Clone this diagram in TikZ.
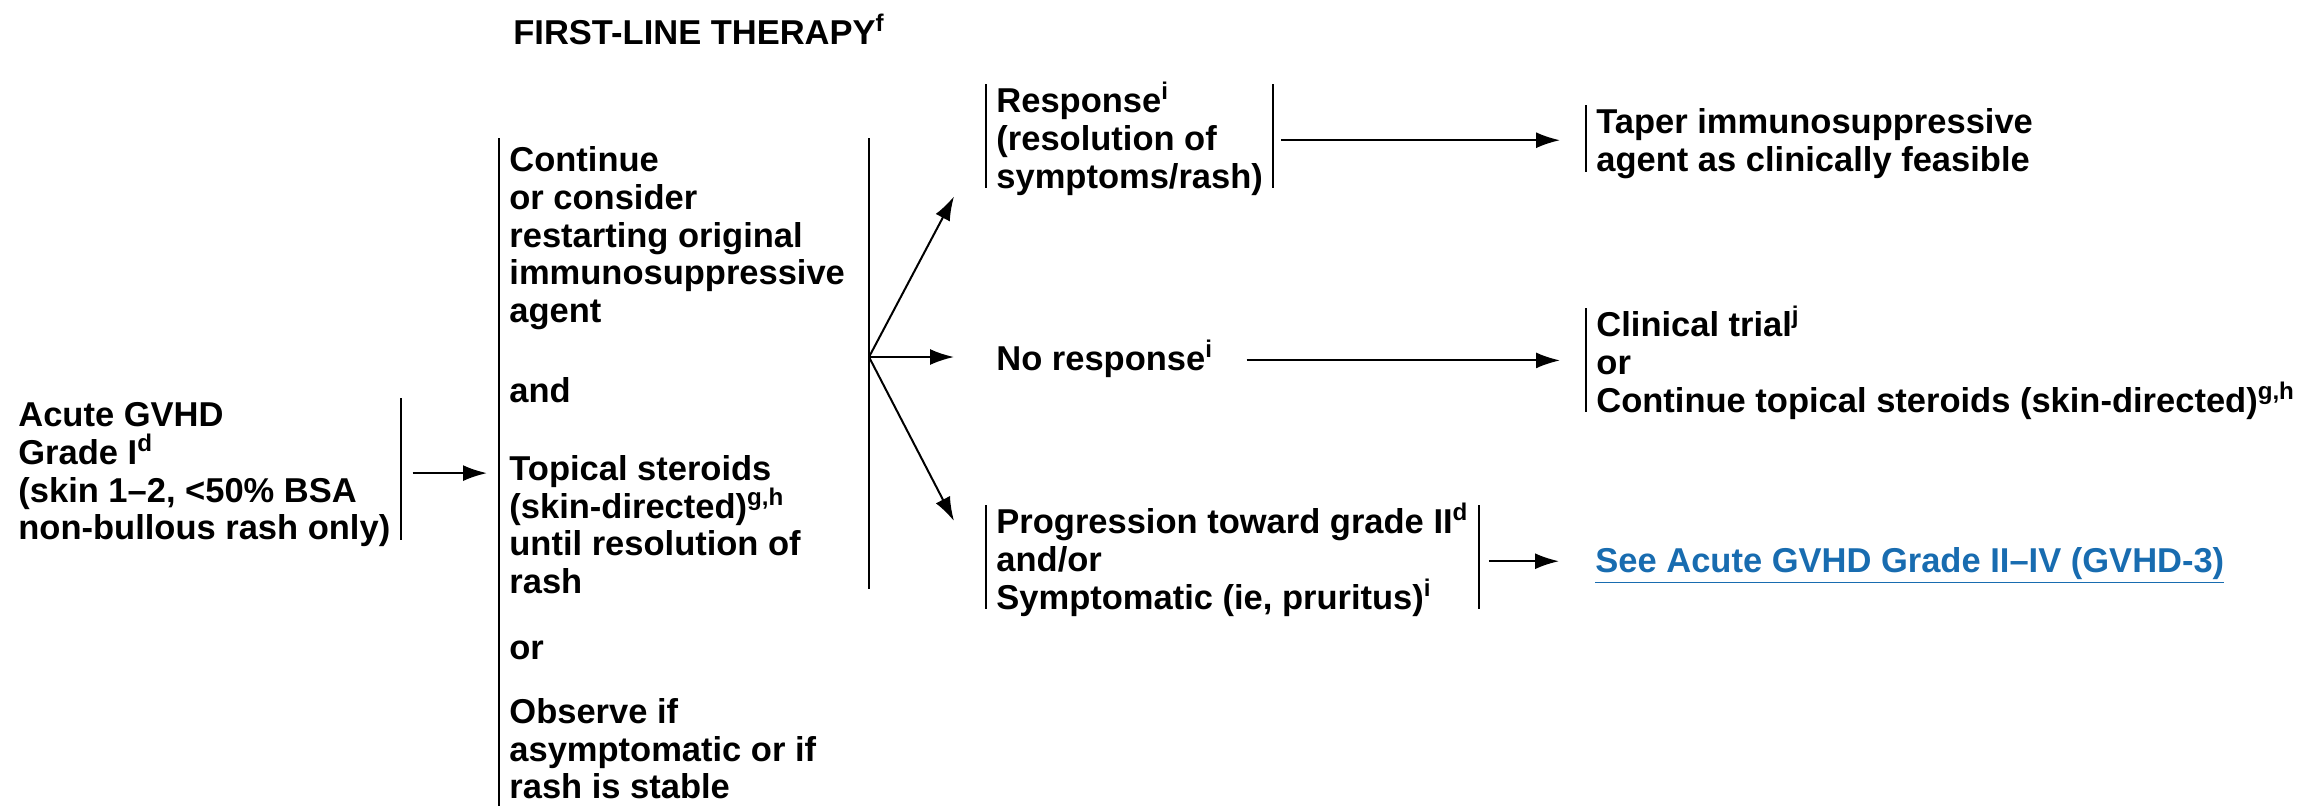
\documentclass[tikz,border=0pt]{standalone}
\usepackage{fontspec}
\setmainfont{Liberation Sans}
\usetikzlibrary{positioning}
\usetikzlibrary{calc}
\usetikzlibrary{arrows.meta}
\definecolor{linkblue}{RGB}{24,108,176}
\newcommand{\tp}{\rule{0pt}{14pt}}
\newcommand{\bt}{\rule[-4pt]{0pt}{0pt}}
\newcommand{\fn}[1]{\smash{\textsuperscript{#1}}}

\begin{document}
\begin{tikzpicture}[x=0.5pt, y=-0.5pt,
    every node/.style={font=\fontsize{17.25}{18.9}\selectfont\bfseries, align=left,
        inner xsep=5pt, inner ysep=0pt, anchor=north west},
    bar/.style={line width=1pt},
    arr/.style={-{Latex[length=12pt,width=8pt]}, line width=1pt}]
    \useasboundingbox (0,0) rectangle (2310,805);

    \node (title) at (503,16) {\tp FIRST-LINE THERAPY\fn{f}};

    \node (acute) at (8,398) {\tp Acute GVHD\\Grade I\fn{d}\\(skin 1--2, <50\% BSA\\non-bullous rash only)\bt};
    \node (therapy) at (499,143) {\tp Continue\\or consider\\restarting original\\immunosuppressive\\agent\\[21pt]and\\[20pt]Topical steroids\\(skin-directed)\fn{g,h}\\until resolution of\\rash\\[14pt]or\\[13pt]Observe if\\asymptomatic or if\\rash is stable\bt};

    \node (resp) at (986,84) {\tp Response\fn{i}\\(resolution of\\symptoms/rash)\bt};
    \node (nores) at (986,342) {\tp No response\fn{i}\bt};
    \node (prog) at (986,505) {\tp Progression toward grade II\fn{d}\\and/or\\Symptomatic (ie, pruritus)\fn{i}\bt};

    \node (taper) at (1586,105) {\tp Taper immunosuppressive\\agent as clinically feasible\bt};
    \node (clin) at (1586,308) {\tp Clinical trial\fn{j}\\or\\Continue topical steroids (skin-directed)\fn{g,h}\bt};
    \node[text=linkblue] (see) at (1585,544) {\tp\underline{See Acute GVHD Grade II--IV (GVHD-3)}\bt};

    % side bars
    \draw[bar] (acute.north east) -- ([yshift=4pt]acute.south east);
    \draw[bar] ([yshift=2.5pt]therapy.north west) -- (therapy.south west);
    \draw[bar] (resp.north west) -- ([yshift=4pt]resp.south west);
    \draw[bar] (resp.north east) -- ([yshift=4pt]resp.south east);
    \draw[bar] (prog.north west) -- ([yshift=4pt]prog.south west);
    \draw[bar] (prog.north east) -- ([yshift=4pt]prog.south east);
    \draw[bar] (taper.north west) -- ([yshift=4pt]taper.south west);
    \draw[bar] (clin.north west) -- ([yshift=4pt]clin.south west);

    \coordinate (forktop) at (869,138);
    \coordinate (forkbot) at (869,589);
    \coordinate (fork) at (869,357);
    \draw[bar] (forktop) -- (forkbot);

    \draw[arr, shorten <=6pt, shorten >=6pt] (acute.east) -- (acute.east -| therapy.west);
    \draw[arr] (fork) -- ([xshift=-16pt]resp.south west);
    \draw[arr, shorten >=16pt] (fork) -- (fork -| nores.west);
    \draw[arr] (fork) -- ([xshift=-16pt,yshift=-8pt]prog.north west);

    \draw[arr, shorten <=4pt, shorten >=13pt] (resp.east) -- (resp.east -| taper.west);
    \draw[arr, shorten <=11.5pt, shorten >=13pt] (nores.east) -- (nores.east -| clin.west);
    \draw[arr, shorten <=5pt, shorten >=13pt] (prog.east) -- (prog.east -| see.west);
\end{tikzpicture}
\end{document}
